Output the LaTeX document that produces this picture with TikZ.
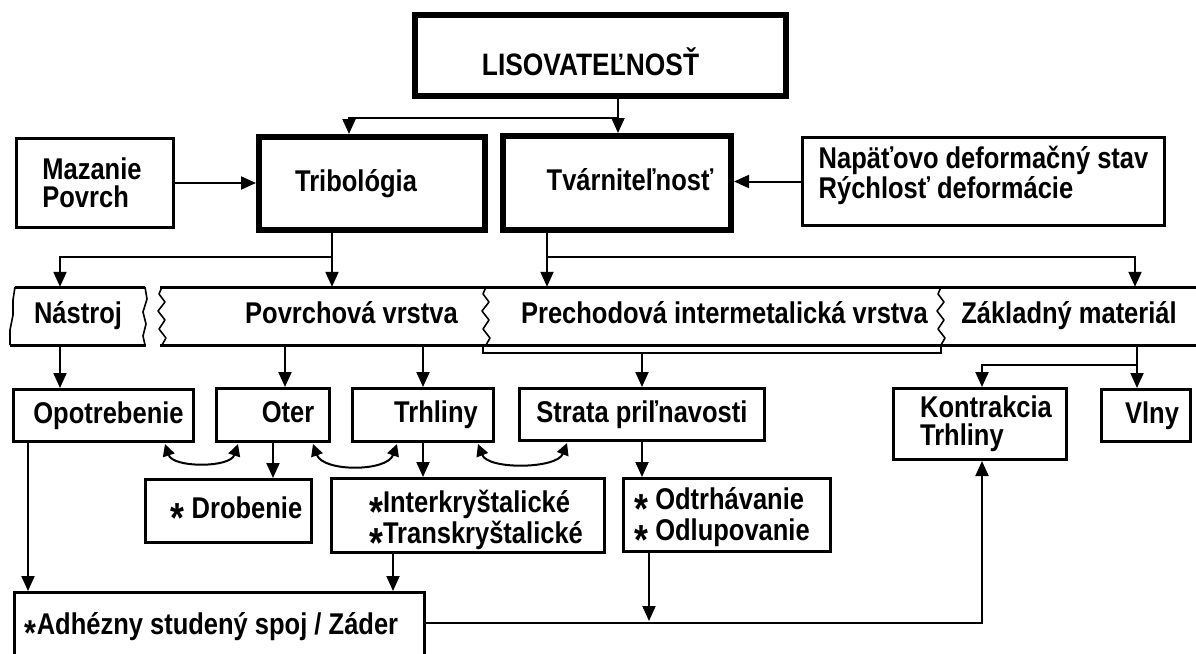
\documentclass[tikz,border=0pt]{standalone}
\usepackage{fontspec}
\setmainfont{Liberation Sans}[FakeStretch=0.85]
\usetikzlibrary{arrows.meta,calc}
\newcommand\astk{\raisebox{-14pt}[0pt][0pt]{\fontsize{42}{42}\selectfont *}}
\newcommand\astks{\raisebox{-11pt}[0pt][0pt]{\fontsize{36}{36}\selectfont *}}
\begin{document}
\begin{tikzpicture}[x=1pt,y=-1pt,
  every node/.style={inner sep=0pt, font=\bfseries\fontsize{30}{28}\selectfont, align=left},
  one/.style={text height=21pt, text depth=6pt},
  two/.style={font=\bfseries\fontsize{30}{31}\selectfont},
  boxn/.style={draw, line width=3pt},
  bigbox/.style={draw, line width=6pt},
  arr/.style={line width=2pt, -{Triangle[length=15pt,width=13pt]}},
  con/.style={line width=2pt},
  dbl/.style={line width=2pt, {Triangle[length=12pt,width=12pt]}-{Triangle[length=12pt,width=12pt]}},
  band/.style={line width=3pt},
  wave/.style={line width=1.6pt, line join=round}]
\fill[white] (0,0) rectangle (1196,653);
\useasboundingbox (0,0) rectangle (1196,653);
\clip (0,0) rectangle (1196,653);

% top level
\node[bigbox, minimum width=371pt, minimum height=81pt,
  label={[one,xshift=-10pt,yshift=-12pt,font=\bfseries\fontsize{31}{30}\selectfont]center:LISOVATEĽNOSŤ}] (lis) at (600.5,55.5) {};
\node[bigbox, minimum width=226pt, minimum height=93pt,
  label={[one,xshift=-16pt]center:Tribológia}] (trib) at (372,183.5) {};
\node[bigbox, minimum width=228pt, minimum height=94pt,
  label={[one,xshift=13pt]center:Tvárniteľnosť}] (tvar) at (617,183) {};
\node[boxn, minimum width=157pt, minimum height=89pt,
  label={[xshift=-3pt]center:{Mazanie\\Povrch}}] (maz) at (95,183) {};
\node[boxn, minimum width=362pt, minimum height=88pt,
  label={[yshift=6pt,font=\bfseries\fontsize{30}{26}\selectfont]center:{Napäťovo deformačný stav\\Rýchlosť deformácie}}] (nap) at (983.5,181.5) {};

% bands
\node[one, minimum width=136pt, minimum height=58pt] (nas) at (78,316) {Nástroj};
\node[one, minimum width=327pt, minimum height=58pt] (pov) at (323.5,316) {\hspace*{56pt}Povrchová vrstva};
\node[one, minimum width=455pt, minimum height=58pt] (pre) at (714.5,316) {\hspace*{20pt}Prechodová intermetalická vrstva};
\node[one, minimum width=254pt, minimum height=58pt] (zak) at (1069,316) {Základný materiál};

\draw[band] (15,287) -- (145,287);
\draw[band] (10,345) -- (146,345);
\draw[wave] (15,287) -- (13,300) -- (13,315) -- (10,330) -- (10,345);
\draw[wave] (145,287) -- (147,299) -- (143,312) -- (146,324) -- (143,336) -- (145,345);
\draw[band] (160,287) -- (1200,287);
\draw[band] (160,345) -- (1200,345);
\foreach \x in {162,486,941}
  \draw[wave] (\x,287) -- (\x-3,294) -- (\x+3,302) -- (\x-4,311) -- (\x+3,320) -- (\x-3,329) -- (\x+4,338) -- (\x,345);
\draw[con] (483,345) -- (483,353) -- (941,353) -- (941,345);

% row 3
\node[boxn, one, minimum width=180pt, minimum height=52pt] (opo) at (103.5,415.5) {\hspace*{10pt}Opotrebenie};
\node[boxn, one, minimum width=113pt, minimum height=53pt] (oter) at (273,415) {\hspace*{30pt}Oter};
\node[boxn, one, minimum width=141pt, minimum height=53pt] (trh) at (423,415) {\hspace*{26pt}Trhliny};
\node[boxn, one, minimum width=245pt, minimum height=52pt] (str) at (642,414.5) {Strata priľnavosti};
\node[boxn, minimum width=173pt, minimum height=71pt,
  label={[xshift=6pt]center:{Kontrakcia\\Trhliny}}] (kon) at (980,424) {};
\node[boxn, one, minimum width=89pt, minimum height=52pt] (vln) at (1146,415.5) {\hspace*{12pt}Vlny};

% row 4
\node[boxn, one, minimum width=166pt, minimum height=63pt] (drob) at (228.5,511) {\hspace*{16pt}\astk\ Drobenie};
\node[boxn, minimum width=273pt, minimum height=74pt,
  label={[two,xshift=8pt,yshift=-4pt]center:{\astk Interkryštalické\\\astk Transkryštalické}}] (inter) at (468,515.5) {};
\node[boxn, minimum width=207pt, minimum height=73pt,
  label={[two,xshift=-5pt,yshift=-2pt]center:{\astk\ Odtrhávanie\\\astk\ Odlupovanie}}] (odt) at (727,515) {};
\node[boxn, minimum width=410pt, minimum height=86pt,
  label={[one,xshift=-8pt,yshift=8.5pt]center:{\astks Adhézny studený spoj / Záder}}] (adh) at (219.5,635.5) {};

% connectors top
\coordinate (jL) at (618,118);
\coordinate (jL2) at (349,118);
\draw[arr] (lis.south -| jL) -- (jL |- tvar.north);
\draw[arr] (jL) -- (jL2) -- (jL2 |- trib.north);
\draw[arr] (maz.east) -- (maz.east -| trib.west);
\draw[arr] (nap.west) -- (nap.west -| tvar.east);

\coordinate (jT) at (332,257);
\coordinate (jN) at (60,257);
\draw[arr] (trib.south -| jT) -- (jT |- pov.north);
\draw[arr] (jT) -- (jN) -- (jN |- nas.north);
\coordinate (jV) at (547,257);
\coordinate (jZ) at (1135,257);
\draw[arr] (tvar.south -| jV) -- (jV |- pre.north);
\draw[arr] (jV) -- (jZ) -- (jZ |- zak.north);

% bands to row 3
\draw[arr] (jN |- nas.south) -- (jN |- opo.north);
\coordinate (xo1) at (285,0);
\coordinate (xt1) at (423,0);
\draw[arr] (xo1 |- pov.south) -- (xo1 |- oter.north);
\draw[arr] (xt1 |- pov.south) -- (xt1 |- trh.north);
\coordinate (xs) at (642,353);
\draw[arr] (xs) -- (xs |- str.north);
\coordinate (jK) at (982,365);
\coordinate (jW) at (1137,365);
\draw[con] (jW |- zak.south) -- (jW);
\draw[arr] (jW) -- (jW |- vln.north);
\draw[arr] (jW) -- (jK) -- (jK |- kon.north);

% curved double arrows
\draw[dbl] ($(opo.south east)+(-30,1)$) .. controls +(8,24) and +(-8,24) .. ($(oter.south west)+(23,1)$);
\draw[dbl] ($(oter.south east)+(-18,1)$) .. controls +(10,28) and +(-10,28) .. ($(trh.south west)+(46,1)$);
\draw[dbl] ($(trh.south east)+(-17,1)$) .. controls +(10,26) and +(-10,26) .. ($(str.south west)+(49,1)$);

% row 3 to row 4
\draw[arr] (oter.south) -- (oter.south |- drob.north);
\draw[arr] (trh.south) -- (trh.south |- inter.north);
\draw[arr] (str.south) -- (str.south |- odt.north);

% to bottom
\coordinate (xo) at (28,0);
\coordinate (xi) at (393,0);
\draw[arr] (xo |- opo.south) -- (xo |- adh.north);
\draw[arr] (xi |- inter.south) -- (xi |- adh.north);
\coordinate (xd) at (649,621);
\draw[arr] (xd |- odt.south) -- (xd);
\coordinate (jA) at (982,623);
\draw[arr] (adh.east |- jA) -- (jA) -- (jK |- kon.south);
\end{tikzpicture}
\end{document}
